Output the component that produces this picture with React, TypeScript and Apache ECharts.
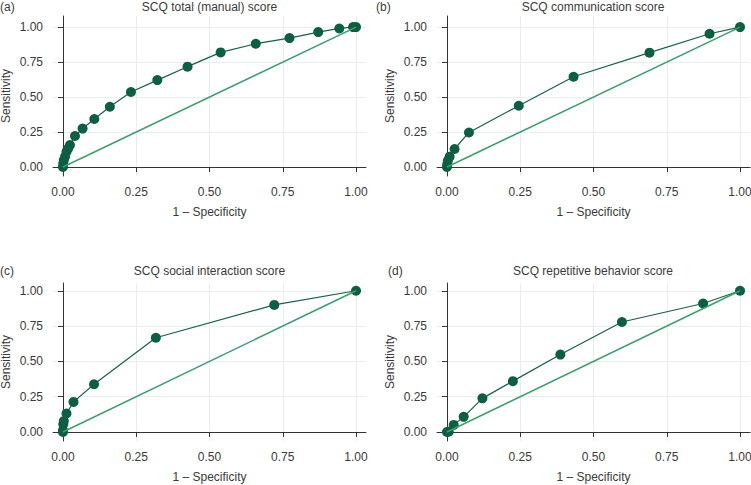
import React, { useEffect, useRef } from "react";
import * as echarts from "echarts";

const tickValues = [0, 0.25, 0.5, 0.75, 1];

const panelTitles = [
  "SCQ total (manual) score",
  "SCQ communication score",
  "SCQ social interaction score",
  "SCQ repetitive behavior score",
];
const panelLetters = ["(a)", "(b)", "(c)", "(d)"];

const totalFpr = [0, 0.001, 0.003, 0.007, 0.012, 0.018, 0.024, 0.041, 0.067, 0.107, 0.16, 0.232, 0.322, 0.425, 0.538, 0.658, 0.773, 0.871, 0.943, 0.99, 1];
const totalTpr = [0, 0.026, 0.05, 0.074, 0.11, 0.133, 0.157, 0.222, 0.275, 0.343, 0.431, 0.536, 0.621, 0.717, 0.819, 0.881, 0.921, 0.964, 0.99, 1, 1];

const commFpr = [0, 0.001, 0.003, 0.009, 0.026, 0.075, 0.245, 0.432, 0.691, 0.896, 1];
const commTpr = [0, 0.02, 0.045, 0.074, 0.129, 0.247, 0.438, 0.645, 0.817, 0.952, 1];

const socialFpr = [0, 0, 0.001, 0.003, 0.012, 0.036, 0.106, 0.317, 0.721, 1];
const socialTpr = [0, 0.012, 0.055, 0.077, 0.131, 0.213, 0.338, 0.667, 0.9, 1];

const repFpr = [0, 0.006, 0.023, 0.057, 0.121, 0.225, 0.387, 0.597, 0.874, 1];
const repTpr = [0, 0.002, 0.05, 0.107, 0.238, 0.36, 0.548, 0.779, 0.91, 1];

const diagX = [0, 1];
const diagY = [0, 1];

const FONT = "Liberation Sans";
const TEXT = "#3a3a3a";
const DOT = "#0d5f42";
const DIAG = "#3d9e6b";

export default function App() {
  const ref = useRef<HTMLDivElement>(null);
  useEffect(() => {
    if (!ref.current) return;
    const chart = echarts.init(ref.current, undefined, { renderer: "svg" });
    const panels = [
      { fpr: totalFpr, tpr: totalTpr },
      { fpr: commFpr, tpr: commTpr },
      { fpr: socialFpr, tpr: socialTpr },
      { fpr: repFpr, tpr: repTpr },
    ];
    const grids = [
      { left: 53, top: 16, width: 313, height: 160, outerBoundsMode: "none" },
      { left: 437, top: 16, width: 313, height: 160, outerBoundsMode: "none" },
      { left: 53, top: 283, width: 313, height: 158, outerBoundsMode: "none" },
      { left: 437, top: 283, width: 313, height: 158, outerBoundsMode: "none" },
    ];
    const yMax = [1.079, 1.079, 1.055, 1.055];
    const titleX = [209.5, 593, 209.5, 593];
    const titleY = [7, 7, 271, 271];
    const letterX = [0, 376, 0, 388];

    const fmt = (v: number) => v.toFixed(2);
    const axisCommon = {
      type: "value" as const,
      axisLine: { show: true, lineStyle: { color: "#333", width: 1 } },
      axisTick: { show: true, length: 5, customValues: tickValues, lineStyle: { color: "#333" } },
      axisLabel: { customValues: tickValues, formatter: fmt, color: TEXT, fontFamily: FONT, fontSize: 12, margin: 10 },
      splitLine: { show: true, lineStyle: { color: "#e6eeef", width: 1 } },
      nameTextStyle: { color: TEXT, fontFamily: FONT, fontSize: 12 },
    };

    const xAxes = grids.map((_, i) => ({
      ...axisCommon,
      gridIndex: i,
      min: -0.034,
      max: 1.034,
      name: "1 – Specificity",
      nameLocation: "middle" as const,
      nameGap: 30,
    }));
    const yAxes = grids.map((_, i) => ({
      ...axisCommon,
      gridIndex: i,
      min: -0.064,
      max: yMax[i],
      name: "Sensitivity",
      nameLocation: "middle" as const,
      nameGap: 41,
    }));

    const series: any[] = [];
    panels.forEach((p, i) => {
      series.push({
        type: "line",
        xAxisIndex: i,
        yAxisIndex: i,
        data: p.fpr.map((x, k) => [x, p.tpr[k]]),
        symbol: "circle",
        symbolSize: 10,
        clip: false,
        lineStyle: { color: "#1b5e45", width: 1.2 },
        itemStyle: { color: DOT },
        z: 2,
      });
      series.push({
        type: "line",
        xAxisIndex: i,
        yAxisIndex: i,
        data: diagX.map((x, k) => [x, diagY[k]]),
        symbol: "none",
        clip: false,
        lineStyle: { color: DIAG, width: 1.5 },
        z: 3,
      });
    });

    const graphics: any[] = [];
    panelTitles.forEach((t, i) => {
      graphics.push({
        type: "text",
        x: titleX[i],
        y: titleY[i],
        style: { text: t, fill: TEXT, font: `12px "${FONT}"`, textAlign: "center", textVerticalAlign: "middle" },
      });
      graphics.push({
        type: "text",
        x: letterX[i],
        y: titleY[i],
        style: { text: panelLetters[i], fill: TEXT, font: `12px "${FONT}"`, textAlign: "left", textVerticalAlign: "middle" },
      });
    });

    chart.setOption({
      animation: false,
      backgroundColor: "#fff",
      grid: grids,
      xAxis: xAxes,
      yAxis: yAxes,
      series,
      graphic: graphics,
    });
    return () => chart.dispose();
  }, []);
  return (
    <div
      ref={ref}
      style={{ position: "fixed", left: 0, top: 0, width: 751, height: 485 }}
    />
  );
}
